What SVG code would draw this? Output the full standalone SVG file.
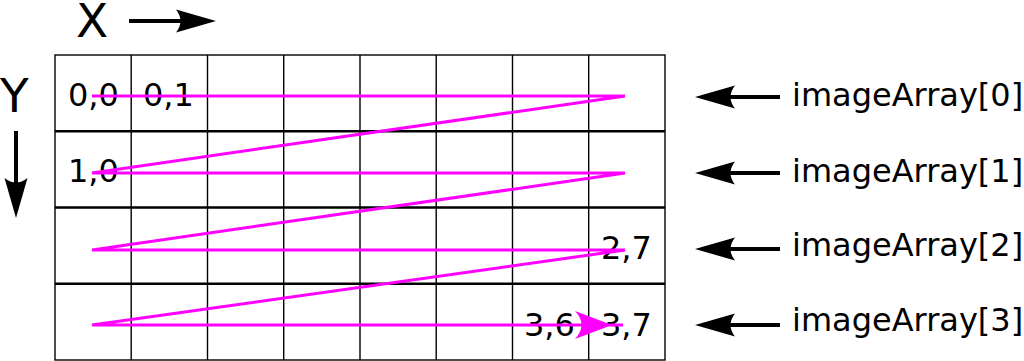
<svg xmlns="http://www.w3.org/2000/svg" width="1024" height="361" viewBox="0 0 1024 361">
<style>
text{font-family:"DejaVu Sans",sans-serif;fill:#000}
.lbl{font-size:32px}
.big{font-size:47px}
.vl{stroke:#000;stroke-width:1.4;fill:none}
.hl{stroke:#000;stroke-width:2.4;fill:none}
.arr{stroke:#000;stroke-width:4;fill:none}
.zig{stroke:#ff00ff;stroke-width:3;fill:none;stroke-linejoin:miter}
</style>
<defs>
<path id="head" d="M0,0 L-40,-11.5 Q-31,0 -40,11.5 Z" fill="#000"/>
</defs>
<g id="axes">
<text class="big" x="76" y="37">X</text>
<text class="big" x="0" y="112">Y</text>
<path class="arr" d="M129,21 H186"/>
<use href="#head" transform="translate(216,21)"/>
<path class="arr" d="M16,131 V188"/>
<use href="#head" transform="translate(16,218) rotate(90)"/>
</g>
<g id="grid">
<rect x="55" y="55" width="610" height="305" class="vl"/>
<path class="vl" d="M131.2,55V360M207.5,55V360M283.7,55V360M360,55V360M436.2,55V360M512.5,55V360M588.7,55V360"/>
<path class="hl" d="M55,131.2H665M55,207.5H665M55,283.7H665"/>
</g>
<g id="cells">
<text class="lbl" x="68" y="106">0,0</text>
<text class="lbl" x="143" y="106">0,1</text>
<text class="lbl" x="68" y="182">1,0</text>
<text class="lbl" x="601" y="259">2,7</text>
<text class="lbl" x="524" y="336">3,6</text>
<text class="lbl" x="601" y="336">3,7</text>
</g>
<g id="connectors">
<polyline class="zig" points="92,96 625,96 92,173 625,173 92,250 625,250 92,325 623,325"/>
<path d="M612,325 L575,311 Q588,325 575,339 Z" fill="#ff00ff"/>
</g>
<g id="rows">
<path class="arr" d="M780,97 H725"/>
<use href="#head" transform="translate(695,97) rotate(180)"/>
<path class="arr" d="M780,173 H725"/>
<use href="#head" transform="translate(695,173) rotate(180)"/>
<path class="arr" d="M780,249 H725"/>
<use href="#head" transform="translate(695,249) rotate(180)"/>
<path class="arr" d="M780,325 H725"/>
<use href="#head" transform="translate(695,325) rotate(180)"/>
<text class="lbl" x="792" y="106">imageArray[0]</text>
<text class="lbl" x="792" y="182">imageArray[1]</text>
<text class="lbl" x="792" y="256">imageArray[2]</text>
<text class="lbl" x="792" y="331">imageArray[3]</text>
</g>
</svg>
